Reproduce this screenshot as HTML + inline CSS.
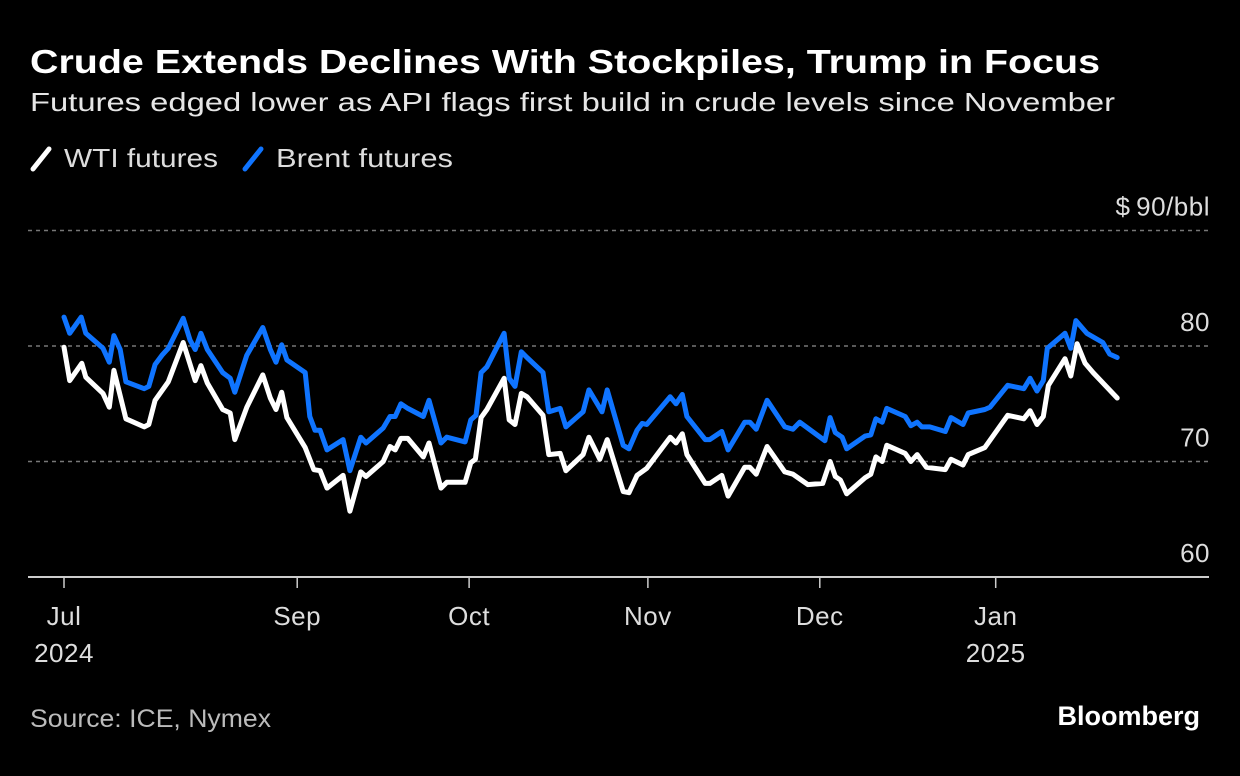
<!DOCTYPE html>
<html><head><meta charset="utf-8"><style>
html,body{margin:0;padding:0;background:#000;}
svg{display:block;font-family:"Liberation Sans",sans-serif;}
</style></head><body>
<svg id="chart" width="1240" height="776" viewBox="0 0 1240 776">
<rect width="1240" height="776" fill="#000"/>
<text x="30" y="73" fill="#fff" font-size="33" font-weight="bold" textLength="1070" lengthAdjust="spacingAndGlyphs">Crude Extends Declines With Stockpiles, Trump in Focus</text>
<text x="30" y="111" fill="#e6e6e6" font-size="26" textLength="1085" lengthAdjust="spacingAndGlyphs">Futures edged lower as API flags first build in crude levels since November</text>
<g>
<g>
<line x1="33" y1="169" x2="49" y2="149" stroke="#fff" stroke-width="5" stroke-linecap="round"/>
<text x="64" y="167" fill="#ddd" font-size="26" textLength="154" lengthAdjust="spacingAndGlyphs">WTI futures</text></g>
<g>
<line x1="245" y1="169" x2="261" y2="149" stroke="#0f74ff" stroke-width="5" stroke-linecap="round"/>
<text x="276" y="167" fill="#ddd" font-size="26" textLength="177" lengthAdjust="spacingAndGlyphs">Brent futures</text></g>
</g>
<g id="grid"></g>
<g id="yaxis"></g>
<g id="xaxis"></g>
<g id="series"></g>
<text x="30" y="727" fill="#bbb" font-size="25" textLength="241" lengthAdjust="spacingAndGlyphs">Source: ICE, Nymex</text>
<text x="1200" y="725" fill="#fff" font-size="27" font-weight="bold" text-anchor="end" letter-spacing="0">Bloomberg</text>
</svg>
<script>
const yTicks=[60,70,80,90];
const yTickLabels=["60","70","80","$\u200990/bbl"];
const monthTickDays=[0,40.7,70.7,101.9,131.9,162.6];
const monthLabels=["Jul","Sep","Oct","Nov","Dec","Jan"];
const yearLabels=["2024","","","","","2025"];
const brentDays=[0,1,3,3.8,6.8,7.9,8.7,9.8,10.8,14,14.8,15.9,17.1,18.2,20.8,22,22.9,23.9,25,27.7,29,29.8,31.9,34.7,36,37,38,38.9,42.1,42.9,43.8,44.7,45.9,48.7,49.9,51.8,52.7,55.7,56.9,57.8,58.8,60,62.7,63.7,65.8,66.8,70,71,71.9,72.8,73.8,76.8,77.7,78.7,79.8,80.8,83.6,84.6,86.6,87.6,90.6,91.6,93.9,94.8,97.6,98.6,100,100.9,101.7,105.8,106.8,107.9,108.7,111.9,112.7,114.8,115.9,118.8,119.7,120.8,122.7,125.8,127.2,128.4,132.8,133.7,134.6,135.8,136.6,139.8,140.8,141.7,142.8,143.6,146.8,147.8,148.9,149.7,151.1,153.8,154.8,156.9,157.8,160.7,161.6,164.7,167.5,168.6,169.8,170.9,171.6,174.7,175.7,176.6,178.5,181.3,182.5,183.8];
const brentValues=[82.5,81.1,82.5,81.1,79.8,78.6,80.9,79.7,76.9,76.3,76.5,78.4,79.2,79.8,82.4,80.5,79.7,81.1,79.7,77.7,77.2,76.0,79.2,81.6,79.7,78.6,80.1,78.8,77.7,73.9,72.7,72.7,71.0,71.9,69.2,72.1,71.6,72.9,73.9,73.9,75.0,74.6,73.9,75.3,71.6,72.1,71.7,73.6,74.0,77.7,78.2,81.1,77.2,76.5,79.5,79.0,77.7,74.3,74.6,73.0,74.3,76.2,74.3,76.2,71.4,71.1,72.7,73.3,73.2,75.6,75.0,75.8,73.9,71.9,71.9,72.6,71.0,73.4,73.4,72.8,75.3,73.0,72.8,73.4,71.8,73.8,72.5,72.1,71.1,72.2,72.3,73.7,73.4,74.6,73.9,73.1,73.4,73.0,73.0,72.6,73.8,73.2,74.2,74.5,74.7,76.6,76.3,77.2,76.1,77.0,79.8,81.1,79.8,82.2,81.1,80.3,79.3,79.0];
const wtiDays=[0,1,3.1,3.8,6.8,7.9,8.7,10.8,14,14.8,15.9,18.2,20.8,22.9,23.9,25,27.7,29,29.8,31.9,34.7,36,37,38,38.9,42.1,43.6,44.7,45.9,48.7,49.9,51.8,52.7,55.7,56.9,57.8,58.8,60,62.7,63.7,65.8,66.8,70,71,71.8,72.8,73.8,76.8,77.7,78.7,79.8,80.8,83.6,84.6,86.6,87.6,90.6,91.6,93.5,94.8,97.6,98.6,100,101.7,105.8,106.8,107.9,108.7,111.9,112.7,114.8,115.9,118.8,119.7,120.8,122.7,125.8,127.2,129.8,132.4,133.7,134.6,135.5,136.6,139.8,140.8,141.7,142.8,143.6,146.8,147.8,148.9,150.5,153.8,154.8,156.9,157.8,160.7,164.7,167.5,168.6,169.8,170.9,171.8,174.7,175.7,176.8,178.2,179.6,183.8];
const wtiValues=[79.9,77.0,78.5,77.3,75.9,74.7,77.9,73.7,73.0,73.2,75.3,76.9,80.3,77.0,78.3,76.8,74.5,74.2,71.9,74.7,77.5,75.5,74.5,76.0,73.8,71.2,69.3,69.2,67.7,68.8,65.7,69.1,68.7,70.0,71.3,71.0,72.0,72.0,70.4,71.6,67.7,68.2,68.2,69.9,70.2,73.8,74.5,77.2,73.6,73.2,75.9,75.6,74.0,70.6,70.7,69.2,70.6,72.1,70.2,71.9,67.4,67.3,68.8,69.4,72.1,71.6,72.4,70.6,68.1,68.1,68.8,67.0,69.5,69.5,68.9,71.3,69.1,68.9,68.0,68.1,70.0,68.7,68.4,67.2,68.6,68.9,70.4,70.0,71.4,70.7,70.0,70.6,69.5,69.3,70.2,69.7,70.6,71.2,74.0,73.7,74.4,73.2,73.9,76.6,78.9,77.4,80.2,78.5,77.7,75.5];

const NS="http://www.w3.org/2000/svg";
const xS=d=>64+d*5.73;
const yS=v=>577-(v-60)*11.55;
function mk(tag,attrs,parent){const e=document.createElementNS(NS,tag);for(const k in attrs)e.setAttribute(k,attrs[k]);parent.appendChild(e);return e;}
const grid=document.getElementById('grid'),yax=document.getElementById('yaxis'),xax=document.getElementById('xaxis'),ser=document.getElementById('series');
yTicks.forEach((t,i)=>{
  if(t>60){const g=mk('line',{x1:28,x2:1209,y1:yS(t),y2:yS(t),stroke:'#777','stroke-width':1.5,'stroke-dasharray':'4,4'},grid);
  
  }
  const tx=mk('text',{x:1210,y:yS(t)-15,fill:'#ddd','font-size':26,'text-anchor':'end','letter-spacing':'0.5'},yax);
  tx.textContent=yTickLabels[i];
  
  
});
const base=mk('line',{x1:28,x2:1209,y1:577,y2:577,stroke:'#ccc','stroke-width':2},xax);


monthTickDays.forEach((d,i)=>{
  const tk=mk('line',{x1:xS(d),x2:xS(d),y1:577,y2:588,stroke:'#ccc','stroke-width':1.5},xax);
  
  
  const t=mk('text',{x:xS(d),y:625,fill:'#ddd','font-size':26,'text-anchor':'middle','letter-spacing':'0.5'},xax);
  t.textContent=monthLabels[i];
  
  
  if(yearLabels[i]){const y=mk('text',{x:xS(d),y:662,fill:'#ddd','font-size':26,'text-anchor':'middle','letter-spacing':'0.5'},xax);
  y.textContent=yearLabels[i];
  
  }
});
function line(days,vals,color,name){
  const p=mk('polyline',{points:days.map((d,i)=>xS(d).toFixed(1)+','+yS(vals[i]).toFixed(1)).join(' '),fill:'none',stroke:color,'stroke-width':5,'stroke-linejoin':'round','stroke-linecap':'round'},ser);
  
  
}
line(brentDays,brentValues,'#0f74ff','brent-futures-line');
line(wtiDays,wtiValues,'#ffffff','wti-futures-line');
</script>
</body></html>
